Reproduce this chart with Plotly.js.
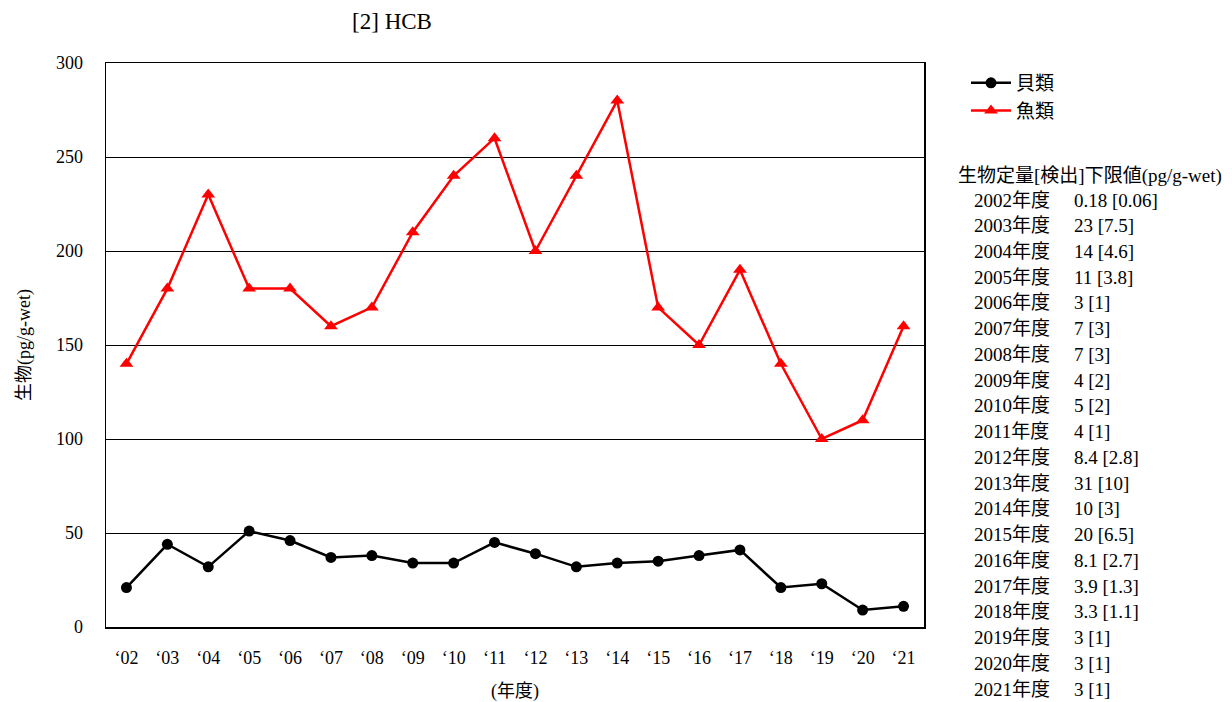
<!DOCTYPE html>
<html>
<head>
<meta charset="utf-8">
<script src="https://cdn.plot.ly/plotly-3.0.1.min.js"></script>
<style>html,body{margin:0;padding:0;background:#fff;}#chart{width:1232px;height:702px;}</style>
</head>
<body>
<div id="chart"></div>
<script>
const years = ['‘02','‘03','‘04','‘05','‘06','‘07','‘08','‘09','‘10','‘11','‘12','‘13','‘14','‘15','‘16','‘17','‘18','‘19','‘20','‘21'];
const shellfish = [21,44,32,51,46,37,38,34,34,45,39,32,34,35,38,41,21,23,9,11];
const fish = [140,180,230,180,180,160,170,210,240,260,200,240,280,170,150,190,140,100,110,160];
const limitHeader = '生物定量[検出]下限値(pg/g-wet)';
const limitYears = ['2002年度','2003年度','2004年度','2005年度','2006年度','2007年度','2008年度','2009年度','2010年度','2011年度','2012年度','2013年度','2014年度','2015年度','2016年度','2017年度','2018年度','2019年度','2020年度','2021年度'];
const limitValues = ['0.18 [0.06]','23 [7.5]','14 [4.6]','11 [3.8]','3 [1]','7 [3]','7 [3]','4 [2]','5 [2]','4 [1]','8.4 [2.8]','31 [10]','10 [3]','20 [6.5]','8.1 [2.7]','3.9 [1.3]','3.3 [1.1]','3 [1]','3 [1]','3 [1]'];

const FONT = "'Liberation Serif', 'Noto Sans CJK JP', serif";
const L = 106, R = 924, T = 63, B = 627;
const px2x = p => (p - L) / (R - L);
const py2y = p => (B - p) / (B - T);

const traces = [
  {x: years, y: shellfish, name: '貝類', type: 'scatter', mode: 'lines+markers',
   line: {color: '#000000', width: 2.5}, marker: {symbol: 'circle', size: 11, color: '#000000'}},
  {x: years, y: fish, name: '魚類', type: 'scatter', mode: 'lines+markers',
   line: {color: '#ff0000', width: 2.5}, marker: {symbol: 'triangle-up', size: 12, color: '#ff0000'}}
];

const annotations = [{
  text: limitHeader, xref: 'paper', yref: 'paper', x: px2x(956), y: py2y(176),
  xanchor: 'left', yanchor: 'middle', showarrow: false, font: {family: FONT, size: 19, color: '#000'}
}];
limitYears.forEach((yr, i) => {
  const py = 200 + i * 25.74;
  annotations.push({text: yr, xref: 'paper', yref: 'paper', x: px2x(972), y: py2y(py),
    xanchor: 'left', yanchor: 'middle', showarrow: false, font: {family: FONT, size: 19, color: '#000'}});
  annotations.push({text: limitValues[i], xref: 'paper', yref: 'paper', x: px2x(1072), y: py2y(py),
    xanchor: 'left', yanchor: 'middle', showarrow: false, font: {family: FONT, size: 19, color: '#000'}});
});

const layout = {
  width: 1232, height: 702,
  margin: {l: L, r: 1232 - R, t: T, b: 702 - B},
  paper_bgcolor: '#fff', plot_bgcolor: '#fff',
  font: {family: FONT, size: 18, color: '#000'},
  title: {text: '[2] HCB', x: 392 / 1232, xanchor: 'center', y: 1 - 21 / 702, yanchor: 'middle',
          font: {family: FONT, size: 23, color: '#000'}},
  xaxis: {type: 'category', range: [-0.5, 19.5], showline: true, mirror: true, linecolor: '#000', linewidth: 1.5,
          showgrid: false, zeroline: false, ticks: '', ticklabelstandoff: 14,
          tickfont: {family: FONT, size: 18, color: '#000'},
          title: {text: '(年度)', standoff: 22, font: {family: FONT, size: 18, color: '#000'}}},
  yaxis: {range: [0, 300], dtick: 50, showline: true, mirror: true, linecolor: '#000', linewidth: 1.5,
          showgrid: true, gridcolor: '#000', gridwidth: 1, zeroline: false, ticks: '', ticklabelstandoff: 18,
          tickfont: {family: FONT, size: 18, color: '#000'},
          title: {text: '生物(pg/g-wet)', standoff: 20, font: {family: FONT, size: 18, color: '#000'}}},
  showlegend: true,
  legend: {x: px2x(966), y: py2y(64), xanchor: 'left', yanchor: 'top', bgcolor: 'rgba(0,0,0,0)',
           font: {family: FONT, size: 19, color: '#000'}, tracegroupgap: 0, itemwidth: 40},
  annotations: annotations
};

Plotly.newPlot('chart', traces, layout, {displayModeBar: false, staticPlot: true});
</script>
</body>
</html>
